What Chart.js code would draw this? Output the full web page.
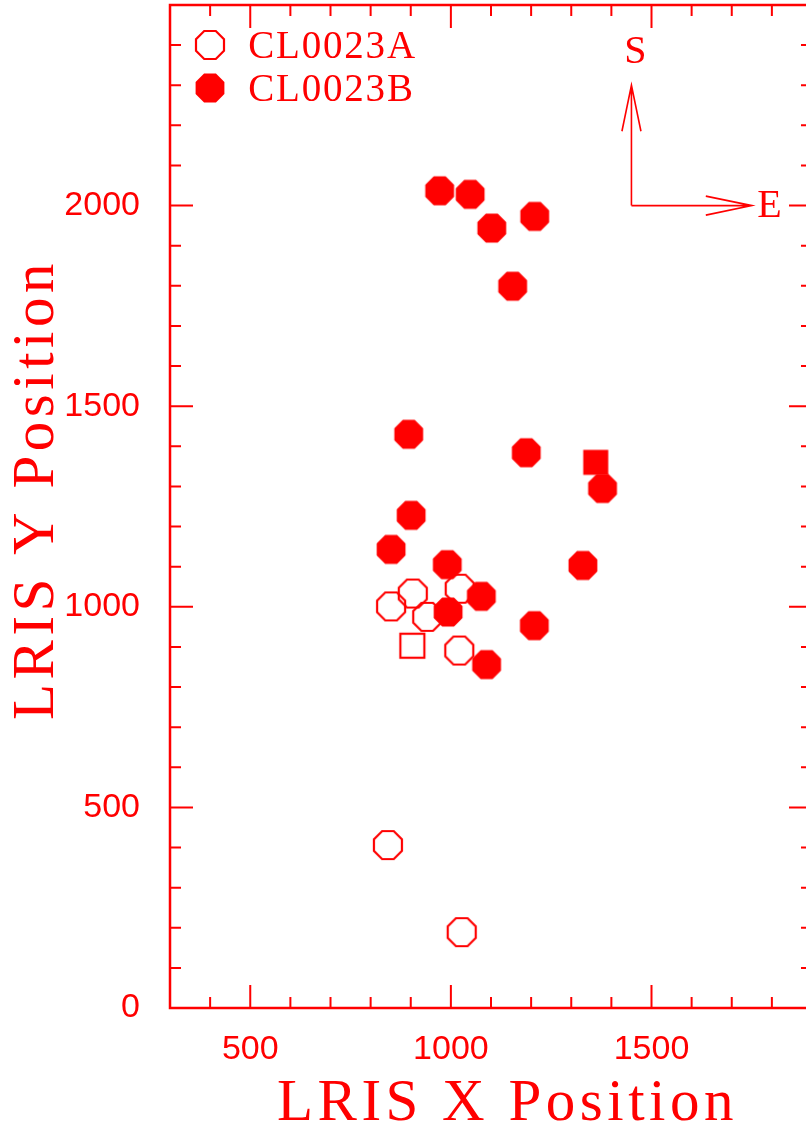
<!DOCTYPE html>
<html>
<head>
<meta charset="utf-8">
<script src="https://cdn.jsdelivr.net/npm/chart.js@4.4.1/dist/chart.umd.min.js"></script>
<style>
  html, body { margin: 0; padding: 0; background: #ffffff; overflow: hidden; }
  #wrap { width: 814px; height: 1128px; }
</style>
</head>
<body>
<div id="wrap"><canvas id="c" width="814" height="1128"></canvas></div>
<script>
// ---- data -------------------------------------------------------------
const clusterAX = [851, 905, 941, 1022, 1021, 843, 1027];
const clusterAY = [1001, 1033, 975, 1045, 891, 406, 189];
const clusterBX = [972, 1048, 1102, 1209, 1154, 895, 1188, 1378, 901, 851, 991, 1329, 1076, 993, 1208, 1089];
const clusterBY = [2037, 2028, 1944, 1973, 1799, 1430, 1384, 1295, 1228, 1143, 1105, 1103, 1026, 987, 953, 856];
const centerAX = [904];
const centerAY = [903];
const centerBX = [1361];
const centerBY = [1360];

const seriesNames = ['CL0023A', 'CL0023B'];
const xTickLabels = [500, 1000, 1500];
const yTickLabels = [0, 500, 1000, 1500, 2000];
const xLimits = [300, 1900];
const yLimits = [0, 2500];
const minorStep = 100;
const majorStep = 500;

// compass: origin, arm length (data units) and letter anchors
const compassOrigin = [1450, 2000];
const compassArm = [300, 300];
const compassS = [1460, 2384];
const compassE = [1794, 2000];
// legend anchors (data units)
const legendMarkerX = 400;
const legendTextX = 495;
const legendY = [2400, 2292];

const RED = '#ff0000';

// ---- marker images ------------------------------------------------------
function octagonImage(filled) {
  const size = 36, c = document.createElement('canvas');
  c.width = size; c.height = size;
  const g = c.getContext('2d');
  const half = filled ? 14.4 : 14;              // centre to flat side
  const r = half / Math.cos(Math.PI / 8);
  g.beginPath();
  for (let k = 0; k < 8; k++) {
    const a = Math.PI / 8 + k * Math.PI / 4;
    const px = size / 2 + r * Math.cos(a), py = size / 2 + r * Math.sin(a);
    if (k === 0) g.moveTo(px, py); else g.lineTo(px, py);
  }
  g.closePath();
  if (filled) { g.fillStyle = RED; g.fill(); }
  else { g.strokeStyle = RED; g.lineWidth = 2.2; g.stroke(); }
  return c;
}
function squareImage(filled) {
  const size = 32, c = document.createElement('canvas');
  c.width = size; c.height = size;
  const g = c.getContext('2d');
  if (filled) { g.fillStyle = RED; g.fillRect(size / 2 - 12.5, size / 2 - 12.5, 25, 25); }
  else { g.strokeStyle = RED; g.lineWidth = 2.2; g.strokeRect(size / 2 - 12, size / 2 - 12, 24, 24); }
  return c;
}
const openOct = octagonImage(false);
const fullOct = octagonImage(true);
const openSq = squareImage(false);
const fullSq = squareImage(true);

const pts = (xs, ys) => xs.map((x, i) => ({ x: x, y: ys[i] }));

// ---- frame, inward ticks, compass, legend and axis titles ---------------
const decorations = {
  id: 'decorations',
  afterDatasetsDraw(chart) {
    const ctx = chart.ctx, a = chart.chartArea;
    const xs = chart.scales.x, ys = chart.scales.y;
    ctx.save();
    ctx.strokeStyle = RED;
    ctx.fillStyle = RED;

    // frame
    ctx.lineWidth = 2.5;
    ctx.strokeRect(a.left, a.top, a.right - a.left, a.bottom - a.top);

    // ticks pointing into the plot on all four sides
    ctx.lineWidth = 2;
    ctx.beginPath();
    for (let v = xLimits[0] + minorStep; v < xLimits[1]; v += minorStep) {
      const p = xs.getPixelForValue(v), len = v % majorStep === 0 ? 23 : 11;
      ctx.moveTo(p, a.bottom); ctx.lineTo(p, a.bottom - len);
      ctx.moveTo(p, a.top); ctx.lineTo(p, a.top + len);
    }
    for (let v = yLimits[0] + minorStep; v < yLimits[1]; v += minorStep) {
      const p = ys.getPixelForValue(v), len = v % majorStep === 0 ? 23 : 11;
      ctx.moveTo(a.left, p); ctx.lineTo(a.left + len, p);
      ctx.moveTo(a.right, p); ctx.lineTo(a.right - len, p);
    }
    ctx.stroke();

    // compass arrows
    const ox = xs.getPixelForValue(compassOrigin[0]);
    const oy = ys.getPixelForValue(compassOrigin[1]);
    const ny = ys.getPixelForValue(compassOrigin[1] + compassArm[1]);
    const ex = xs.getPixelForValue(compassOrigin[0] + compassArm[0]);
    ctx.lineWidth = 1.6;
    ctx.beginPath();
    ctx.moveTo(ox, oy); ctx.lineTo(ox, ny);
    ctx.moveTo(ox - 9.5, ny + 46); ctx.lineTo(ox, ny); ctx.lineTo(ox + 9.5, ny + 46);
    ctx.moveTo(ox, oy); ctx.lineTo(ex, oy);
    ctx.moveTo(ex - 46, oy - 9.5); ctx.lineTo(ex, oy); ctx.lineTo(ex - 46, oy + 9.5);
    ctx.stroke();

    ctx.font = '40px "Liberation Serif", "Times New Roman", serif';
    ctx.textAlign = 'center';
    ctx.textBaseline = 'middle';
    ctx.fillText('S', xs.getPixelForValue(compassS[0]), ys.getPixelForValue(compassS[1]) + 1);
    ctx.fillText('E', xs.getPixelForValue(compassE[0]), ys.getPixelForValue(compassE[1]) + 1);

    // legend
    const mx = xs.getPixelForValue(legendMarkerX), tx = xs.getPixelForValue(legendTextX);
    [openOct, fullOct].forEach((img, i) => {
      const y = ys.getPixelForValue(legendY[i]);
      ctx.drawImage(img, Math.round(mx - img.width / 2), Math.round(y - img.height / 2));
    });
    ctx.font = '39px "Liberation Serif", "Times New Roman", serif';
    ctx.letterSpacing = '1.8px';
    ctx.textAlign = 'left';
    ctx.textBaseline = 'alphabetic';
    seriesNames.forEach((name, i) => {
      const y = ys.getPixelForValue(legendY[i]);
      ctx.fillText(name, tx, y + 13);
    });

    // axis titles
    ctx.font = '59px "Liberation Serif", "Times New Roman", serif';
    ctx.letterSpacing = '4.5px';
    ctx.fillText('LRIS X Position', 277, 1120);
    ctx.translate(53, 720);
    ctx.rotate(-Math.PI / 2);
    ctx.fillText('LRIS Y Position', 0, 0);
    ctx.restore();
  }
};

const plainLabel = v => String(v);

new Chart(document.getElementById('c'), {
  type: 'scatter',
  data: {
    datasets: [
      { label: seriesNames[0], data: pts(clusterAX, clusterAY), pointStyle: openOct, pointRadius: 14 },
      { label: seriesNames[0] + ' centre', data: pts(centerAX, centerAY), pointStyle: openSq, pointRadius: 13 },
      { label: seriesNames[1], data: pts(clusterBX, clusterBY), pointStyle: fullOct, pointRadius: 14 },
      { label: seriesNames[1] + ' centre', data: pts(centerBX, centerBY), pointStyle: fullSq, pointRadius: 13 }
    ]
  },
  options: {
    responsive: false,
    animation: false,
    devicePixelRatio: 1,
    layout: { autoPadding: false, padding: { top: 5, right: 2, left: 0, bottom: 0 } },
    plugins: { legend: { display: false }, tooltip: { enabled: false } },
    scales: {
      x: {
        type: 'linear',
        min: xLimits[0], max: xLimits[1],
        grid: { display: false },
        border: { display: false },
        afterBuildTicks: s => { s.ticks = xTickLabels.map(v => ({ value: v })); },
        afterFit: s => { s.height = 120; s.paddingLeft = 0; s.paddingRight = 0; },
        ticks: {
          color: RED, padding: 13, maxRotation: 0, autoSkip: false,
          callback: plainLabel,
          font: { family: '"Liberation Sans", Arial, sans-serif', size: 34 }
        }
      },
      y: {
        type: 'linear',
        min: yLimits[0], max: yLimits[1],
        grid: { display: false },
        border: { display: false },
        afterBuildTicks: s => { s.ticks = yTickLabels.map(v => ({ value: v })); },
        afterFit: s => { s.width = 170; s.paddingTop = 0; s.paddingBottom = 0; },
        ticks: {
          color: RED, padding: 22, autoSkip: false,
          callback: plainLabel,
          font: { family: '"Liberation Sans", Arial, sans-serif', size: 34 }
        }
      }
    }
  },
  plugins: [decorations]
});
</script>
</body>
</html>
